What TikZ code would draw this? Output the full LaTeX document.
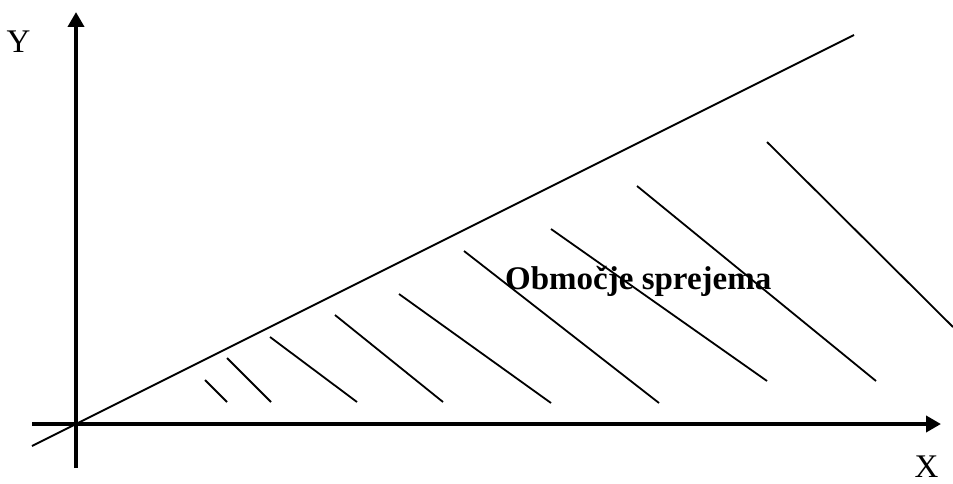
\documentclass[tikz,border=0pt]{standalone}
\usepackage{fontspec}
\setmainfont{Liberation Serif}
\usetikzlibrary{arrows.meta}
\begin{document}
\begin{tikzpicture}[x=1pt,y=-1pt,
  axis/.style={line width=4pt,-{Triangle[length=15pt,width=16pt]}},
  bound/.style={line width=1.8pt},
  hatch/.style={line width=1.8pt},
  axlabel/.style={font=\fontsize{33}{33}\selectfont, inner sep=0pt},
  region/.style={font=\fontsize{33}{33}\selectfont\bfseries, inner sep=0pt, anchor=base west}]
\useasboundingbox (0,0) rectangle (953,484);
\fill[white] (0,0) rectangle (953,484);
\coordinate (o) at (76,424);
\coordinate (xs) at (32,424);
\coordinate (xe) at (941,424);
\coordinate (ys) at (76,468);
\coordinate (ye) at (76,12);
\coordinate (ls) at (32,446);
\coordinate (le) at (854,35);
\draw[bound] (ls) -- (le);
\draw[hatch] (205,380) -- (227,402);
\draw[hatch] (227,358) -- (271,402);
\draw[hatch] (270,337) -- (357,402);
\draw[hatch] (335,315) -- (443,402);
\draw[hatch] (399,294) -- (551,403);
\draw[hatch] (464,251) -- (659,403);
\draw[hatch] (551,229) -- (767,381);
\draw[hatch] (637,186) -- (876,381);
\draw[hatch] (767,142) -- (953,327);
\node[region] (r) at (505,289) {Območje sprejema};
\draw[axis] (xs) -- (xe);
\draw[axis] (ys) -- (ye);
\node[axlabel] (ylab) at (18.5,42) {Y};
\node[axlabel] (xlab) at (926.5,467) {X};
\end{tikzpicture}
\end{document}
